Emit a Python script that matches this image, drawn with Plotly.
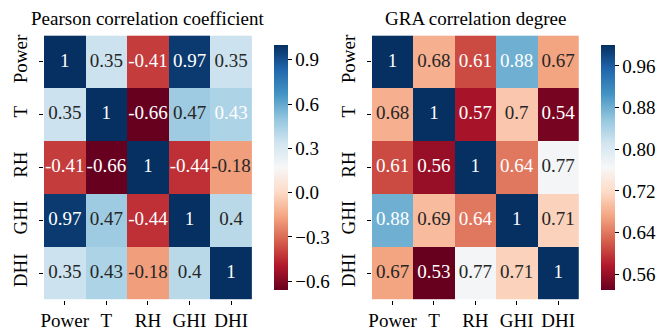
import plotly.graph_objects as go
import numpy as np

# Variables shown on both axes
labels = ["Power", "T", "RH", "GHI", "DHI"]

# Pearson correlation matrix
pearson = [
    [1.00, 0.35, -0.41, 0.97, 0.35],
    [0.35, 1.00, -0.66, 0.47, 0.43],
    [-0.41, -0.66, 1.00, -0.44, -0.18],
    [0.97, 0.47, -0.44, 1.00, 0.40],
    [0.35, 0.43, -0.18, 0.40, 1.00],
]

# Grey relational analysis degrees
gra = [
    [1.00, 0.68, 0.61, 0.88, 0.67],
    [0.68, 1.00, 0.57, 0.70, 0.54],
    [0.61, 0.56, 1.00, 0.64, 0.77],
    [0.88, 0.69, 0.64, 1.00, 0.71],
    [0.67, 0.53, 0.77, 0.71, 1.00],
]

pearson_ticks = [-0.6, -0.3, 0.0, 0.3, 0.6, 0.9]
gra_ticks = [0.56, 0.64, 0.72, 0.80, 0.88, 0.96]

titles = ["Pearson correlation coefficient", "GRA correlation degree"]

# ColorBrewer RdBu (as used by matplotlib)
rdbu_hex = ["#67001f", "#b2182b", "#d6604d", "#f4a582", "#fddbc7", "#f7f7f7",
            "#d1e5f0", "#92c5de", "#4393c3", "#2166ac", "#053061"]
rdbu = [[i / (len(rdbu_hex) - 1), c] for i, c in enumerate(rdbu_hex)]

W, H = 666, 331
FONT = "Liberation Serif"
FS = 19


def hex_rgb(h):
    h = h.lstrip("#")
    return np.array([int(h[i:i + 2], 16) for i in (0, 2, 4)]) / 255.0


def sample(t):
    t = min(max(t, 0.0), 1.0) * (len(rdbu_hex) - 1)
    i = min(int(np.floor(t)), len(rdbu_hex) - 2)
    f = t - i
    return hex_rgb(rdbu_hex[i]) * (1 - f) + hex_rgb(rdbu_hex[i + 1]) * f


def luminance(rgb):
    c = np.where(rgb <= 0.03928, rgb / 12.92, ((rgb + 0.055) / 1.055) ** 2.4)
    return 0.2126 * c[0] + 0.7152 * c[1] + 0.0722 * c[2]


def fmt(v):
    return format(v, ".2g")


panels = [
    dict(z=pearson, zmin=-0.66, zmax=1.0, ticks=pearson_ticks, tfmt="%.1f",
         x0=42, x1=255, cb=267),
    dict(z=gra, zmin=0.53, zmax=1.0, ticks=gra_ticks, tfmt="%.2f",
         x0=378, x1=590, cb=602),
]
top, bottom = 34.5, 299.5

fig = go.Figure()
layout = dict(
    width=W, height=H, margin=dict(l=0, r=0, t=0, b=0),
    paper_bgcolor="white", plot_bgcolor="white",
    font=dict(family=FONT, size=FS, color="black"),
    showlegend=False,
)

n = len(labels)
for k, p in enumerate(panels):
    xa = "x" if k == 0 else "x2"
    ya = "y" if k == 0 else "y2"
    ca = "coloraxis" if k == 0 else "coloraxis2"
    z = np.array(p["z"])

    fig.add_trace(go.Heatmap(
        z=z, x=list(range(n)), y=list(range(n)), coloraxis=ca,
        xaxis=xa, yaxis=ya, hoverinfo="skip",
    ))

    xs, ys, txt, cols = [], [], [], []
    for r in range(n):
        for c in range(n):
            v = z[r, c]
            t = (v - p["zmin"]) / (p["zmax"] - p["zmin"])
            lum = luminance(sample(t))
            xs.append(c)
            ys.append(r)
            txt.append(fmt(v))
            cols.append("#262626" if lum > 0.408 else "white")
    if k == 0:
        # this cell is rendered with light text
        cols[1 * n + 4] = "white"
    fig.add_trace(go.Scatter(
        x=xs, y=ys, mode="text", text=txt,
        textfont=dict(family=FONT, size=FS, color=cols),
        xaxis=xa, yaxis=ya, hoverinfo="skip",
    ))

    ax_common = dict(
        tickmode="array", tickvals=list(range(n)), ticktext=labels,
        showgrid=False, zeroline=False, showline=False,
        ticks="outside", ticklen=4, tickwidth=1, tickcolor="black",
        tickfont=dict(family=FONT, size=FS, color="black"),
    )
    layout["xaxis" if k == 0 else "xaxis2"] = dict(
        ax_common, domain=[p["x0"] / W, p["x1"] / W], range=[-0.5, n - 0.5],
        anchor=ya, fixedrange=True,
    )
    layout["yaxis" if k == 0 else "yaxis2"] = dict(
        ax_common, domain=[1 - bottom / H, 1 - top / H], range=[n - 0.5, -0.5],
        anchor=xa, tickangle=-90, fixedrange=True, ticklabelstandoff=4,
    )
    layout[ca] = dict(
        colorscale=rdbu, cmin=p["zmin"], cmax=p["zmax"],
        colorbar=dict(
            x=p["cb"] / W, xanchor="left", xref="paper",
            y=1 - (top + bottom) / 2 / H, yanchor="middle",
            lenmode="pixels", len=bottom - top,
            thicknessmode="pixels", thickness=14,
            outlinewidth=0,
            tickmode="array", tickvals=p["ticks"],
            ticktext=[(p["tfmt"] % v).replace("-", "\u2212") if v < 0 else p["tfmt"] % v
                      for v in p["ticks"]],
            ticks="outside", ticklen=4, tickwidth=1, tickcolor="black",
            tickfont=dict(family=FONT, size=FS, color="black"),
        ),
    )

annotations = []
for k, p in enumerate(panels):
    annotations.append(dict(
        text=titles[k], xref="paper", yref="paper",
        x=(p["x0"] + p["x1"]) / 2 / W, y=1 - 18 / H,
        xanchor="center", yanchor="middle", showarrow=False,
        font=dict(family=FONT, size=FS, color="black"),
    ))
layout["annotations"] = annotations

fig.update_layout(**layout)
fig.write_html("out.html")
